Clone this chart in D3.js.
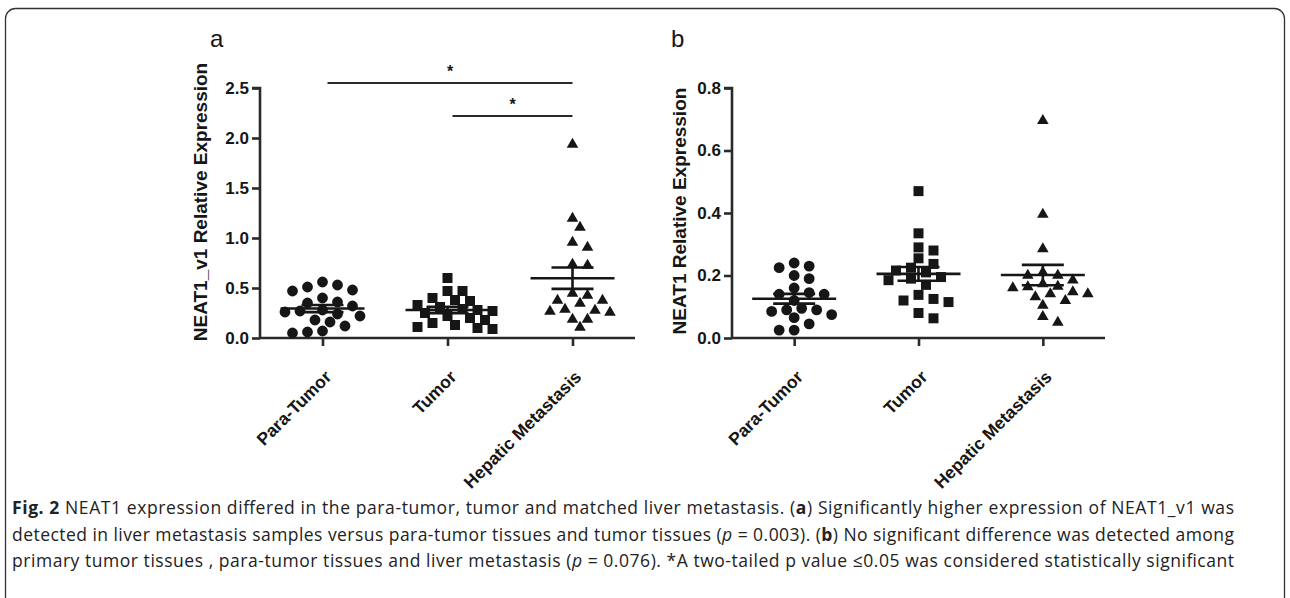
<!DOCTYPE html>
<html>
<head>
<meta charset="utf-8">
<script src="https://cdn.jsdelivr.net/npm/d3@7"></script>
<style>
  html, body { margin: 0; padding: 0; background: #fff; }
  svg { display: block; }
</style>
</head>
<body>
<svg id="fig" width="1290" height="598"></svg>
<script>
// groups on the x axis
var groups = ['Para-Tumor', 'Tumor', 'Hepatic Metastasis'];

// panel a: NEAT1_v1 relative expression
var v1ParaTumor = [0.56, 0.53, 0.51, 0.48, 0.47, 0.40, 0.36, 0.35, 0.32, 0.28,
  0.27, 0.26, 0.24, 0.22, 0.18, 0.16, 0.12, 0.07, 0.06, 0.05];
var v1Tumor = [0.60, 0.47, 0.47, 0.40, 0.38, 0.37, 0.33, 0.31, 0.29, 0.28,
  0.27, 0.25, 0.22, 0.20, 0.18, 0.15, 0.13, 0.11, 0.10, 0.09];
var v1Hepatic = [1.95, 1.21, 1.12, 0.97, 0.92, 0.75, 0.74, 0.46, 0.44, 0.39,
  0.39, 0.36, 0.30, 0.29, 0.28, 0.27, 0.20, 0.20, 0.12];

// panel b: NEAT1 relative expression
var totalParaTumor = [0.24, 0.23, 0.225, 0.20, 0.19, 0.16, 0.145, 0.14, 0.14, 0.12,
  0.095, 0.09, 0.09, 0.085, 0.075, 0.065, 0.045, 0.025, 0.025];
var totalTumor = [0.47, 0.335, 0.29, 0.28, 0.255, 0.237, 0.225, 0.216, 0.21, 0.195,
  0.19, 0.185, 0.17, 0.138, 0.125, 0.12, 0.115, 0.08, 0.063];
var totalHepatic = [0.70, 0.40, 0.29, 0.215, 0.205, 0.205, 0.19, 0.178, 0.17, 0.168,
  0.165, 0.152, 0.146, 0.146, 0.136, 0.124, 0.109, 0.073, 0.055];

// axis ticks
var ticksA = [0, 0.5, 1.0, 1.5, 2.0, 2.5];
var ticksB = [0, 0.2, 0.4, 0.6, 0.8];

// significance bars of panel a
var sigA = [
  { from: 'Para-Tumor', to: 'Hepatic Metastasis', y: 2.55, label: '*' },
  { from: 'Tumor', to: 'Hepatic Metastasis', y: 2.22, label: '*' }
];

var ink = '#161616';
var svg = d3.select('#fig');

// outer frame
svg.append('rect')
  .attr('x', 5.5).attr('y', 8.5)
  .attr('width', 1279).attr('height', 640)
  .attr('rx', 10)
  .attr('fill', 'none')
  .attr('stroke', '#333')
  .attr('stroke-width', 1.3);

var symbolTypes = [d3.symbolCircle, d3.symbolSquare, d3.symbolTriangle];
var symbolSizes = [92, 100, 58];

// column scatter: each point goes to the nearest free slot beside the centre
function swarm(values, y, cx) {
  var step = 7.5, gap = 10.5;
  var pts = values.map(function(v) { return { v: v, y: y(v) }; })
    .sort(function(a, b) { return a.y - b.y; });
  var placed = [];
  pts.forEach(function(p) {
    for (var k = 0; k < 60; k++) {
      var off = k === 0 ? 0 : (k % 2 ? 1 : -1) * Math.ceil(k / 2) * step;
      var ok = placed.every(function(q) {
        return Math.hypot(q.x - (cx + off), q.y - p.y) >= gap;
      });
      if (ok) { p.x = cx + off; break; }
    }
    placed.push(p);
  });
  return placed;
}

function panel(opts) {
  var g = svg.append('g').attr('class', 'panel');
  var x = d3.scalePoint().domain(groups).range(opts.xRange).padding(0.5);
  var y = d3.scaleLinear().domain(opts.yDomain).range([338, 88]);

  // y axis
  var yAxis = d3.axisLeft(y).tickValues(opts.ticks).tickSize(8).tickPadding(3)
    .tickFormat(d3.format('.1f'));
  var ya = g.append('g')
    .attr('transform', 'translate(' + opts.xRange[0] + ',0)')
    .call(yAxis);
  ya.select('.domain').attr('d', 'M-8,' + y(opts.yDomain[1]) + 'H0V' + y(0) + 'H0');

  // x axis
  var xa = g.append('g')
    .attr('transform', 'translate(0,' + y(0) + ')')
    .call(d3.axisBottom(x).tickSize(8).tickFormat(''));
  xa.select('.domain').attr('d', 'M' + opts.xRange[0] + ',0H' + opts.xRange[1]);

  [ya, xa].forEach(function(a) {
    a.selectAll('.domain, .tick line')
      .attr('stroke', '#2a2a2a').attr('stroke-width', 2.6);
  });
  ya.selectAll('.tick text')
    .attr('fill', ink)
    .style('font', 'bold 17px "Liberation Sans", Arial, sans-serif');

  // rotated category labels
  g.selectAll('text.cat')
    .data(groups)
    .enter().append('text')
    .attr('class', 'cat')
    .attr('text-anchor', 'end')
    .attr('transform', function(d) {
      return 'translate(' + (x(d) + 10) + ',' + (y(0) + 40) + ') rotate(-45)';
    })
    .attr('fill', ink)
    .style('font', 'bold 17.5px "Liberation Sans", Arial, sans-serif')
    .text(function(d) { return d; });

  // y title
  g.append('text')
    .attr('text-anchor', 'middle')
    .attr('transform', 'translate(' + opts.titleX + ',' + opts.titleY + ') rotate(-90)')
    .attr('fill', ink)
    .style('font', 'bold 19px "Liberation Sans", Arial, sans-serif')
    .text(opts.title);

  // panel letter
  g.append('text')
    .attr('x', opts.letterX).attr('y', 47)
    .attr('fill', ink)
    .style('font', '24px "Liberation Sans", Arial, sans-serif')
    .text(opts.letter);

  // points, mean and SEM
  opts.series.forEach(function(vals, i) {
    var cx = x(groups[i]);
    var pts = swarm(vals, y, cx);
    g.append('g').selectAll('path')
      .data(pts)
      .enter().append('path')
      .attr('d', d3.symbol().type(symbolTypes[i]).size(symbolSizes[i]))
      .attr('transform', function(d) {
        var dy = i === 2 ? 1.5 : 0;
        return 'translate(' + d.x + ',' + (d.y + dy) + ')';
      })
      .attr('fill', ink);

    var m = d3.mean(vals);
    var sem = d3.deviation(vals) / Math.sqrt(vals.length);
    var sg = g.append('g').attr('stroke', ink).attr('stroke-width', 2.6).attr('fill', 'none');
    sg.append('line').attr('x1', cx - 42).attr('x2', cx + 42).attr('y1', y(m)).attr('y2', y(m));
    sg.append('line').attr('x1', cx - 21).attr('x2', cx + 21).attr('y1', y(m + sem)).attr('y2', y(m + sem));
    sg.append('line').attr('x1', cx - 21).attr('x2', cx + 21).attr('y1', y(m - sem)).attr('y2', y(m - sem));
    sg.append('line').attr('x1', cx).attr('x2', cx).attr('y1', y(m + sem)).attr('y2', y(m - sem));
  });

  // significance bars
  (opts.sig || []).forEach(function(s) {
    var x1 = x(s.from) + 5, x2 = x(s.to);
    g.append('line')
      .attr('x1', x1).attr('x2', x2).attr('y1', y(s.y)).attr('y2', y(s.y))
      .attr('stroke', '#2a2a2a').attr('stroke-width', 2);
    g.append('text')
      .attr('x', (x1 + x2) / 2).attr('y', y(s.y) - 6)
      .attr('text-anchor', 'middle')
      .attr('fill', ink)
      .style('font', 'bold 16px "Liberation Sans", Arial, sans-serif')
      .text(s.label);
  });
}

panel({
  xRange: [260, 635], yDomain: [0, 2.5], ticks: ticksA,
  title: 'NEAT1_v1 Relative Expression', titleX: 207, titleY: 202,
  letter: 'a', letterX: 210,
  series: [v1ParaTumor, v1Tumor, v1Hepatic], sig: sigA
});
panel({
  xRange: [732, 1105], yDomain: [0, 0.8], ticks: ticksB,
  title: 'NEAT1 Relative Expression', titleX: 686, titleY: 211,
  letter: 'b', letterX: 671,
  series: [totalParaTumor, totalTumor, totalHepatic]
});

// caption, justified lines
var captionLines = [
  [['Fig. 2', 'b'], [' NEAT1 expression differed in the para-tumor, tumor and matched liver metastasis. ('], ['a', 'b'], [') Significantly higher expression of NEAT1_v1 was']],
  [['detected in liver metastasis samples versus para-tumor tissues and tumor tissues ('], ['p', 'i'], [' = 0.003). ('], ['b', 'b'], [') No significant difference was detected among']],
  [['primary tumor tissues , para-tumor tissues and liver metastasis ('], ['p', 'i'], [' = 0.076). *A two-tailed p value \u22640.05 was considered statistically significant']]
];
var capY = [514, 541, 567];
captionLines.forEach(function(parts, i) {
  var t = svg.append('text')
    .attr('x', 12).attr('y', capY[i])
    .attr('fill', '#222')
    .style('font', '17.5px "Open Sans", sans-serif');
  parts.forEach(function(p) {
    var ts = t.append('tspan').text(p[0]);
    if (p[1] === 'b') ts.attr('font-weight', 'bold');
    if (p[1] === 'i') ts.attr('font-style', 'italic');
  });
  var w = t.node().getComputedTextLength();
  var target = 1222;
  t.attr('textLength', target).attr('lengthAdjust', w > target ? 'spacingAndGlyphs' : 'spacing');
});
</script>
</body>
</html>
